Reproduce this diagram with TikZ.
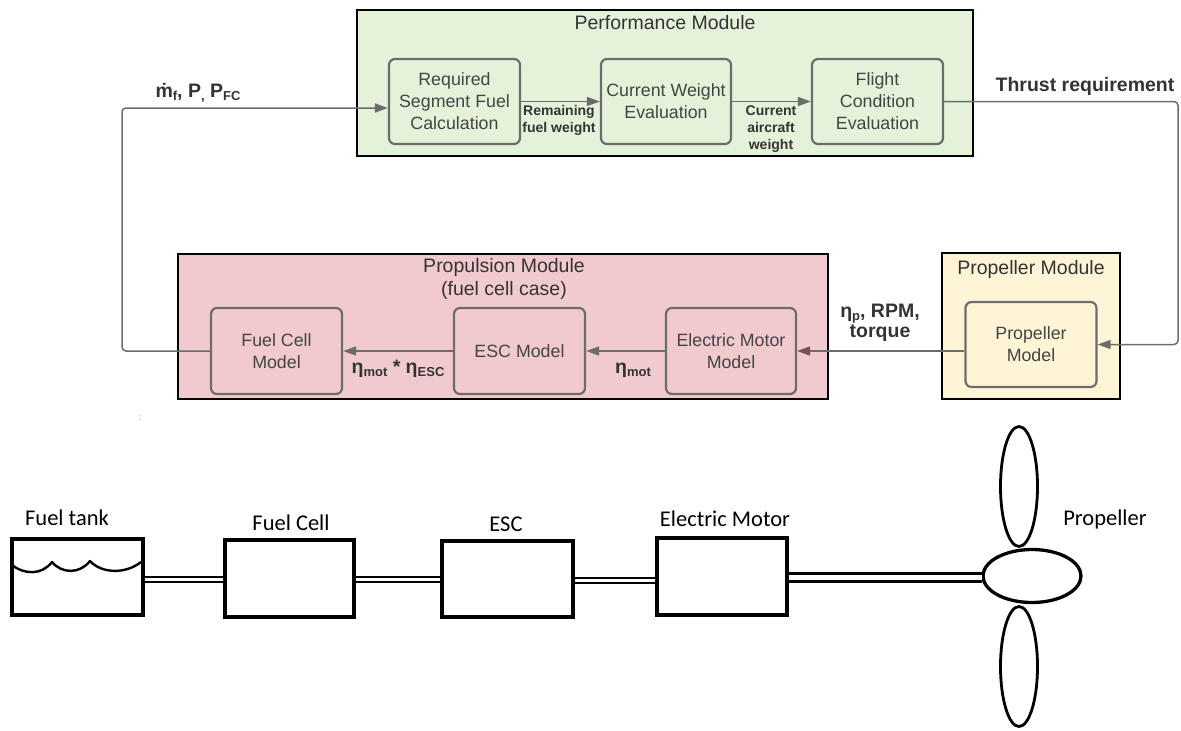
\documentclass[tikz,border=0pt]{standalone}
\usepackage{fontspec}
\setmainfont{Liberation Sans}
\newfontfamily\calibri{Carlito}
\usetikzlibrary{arrows.meta,shapes.geometric}

\definecolor{perfgreen}{RGB}{229,242,218}
\definecolor{propred}{RGB}{241,202,206}
\definecolor{propyellow}{RGB}{255,244,214}
\definecolor{edgegray}{RGB}{108,108,108}
\definecolor{textgray}{RGB}{51,51,51}
\definecolor{boxtext}{RGB}{68,68,68}
\definecolor{linkred}{RGB}{122,78,84}

% small lowered index used in the bold signal labels
\newcommand\lsub[1]{\raisebox{-0.32ex}{\fontsize{13}{13}\selectfont #1}}

\tikzset{
  module/.style={draw=black, line width=1.4pt, inner sep=0pt},
  block/.style={draw=edgegray, line width=2.2pt, rounded corners=6pt,
    minimum width=131pt, minimum height=85pt, inner sep=0pt, align=center,
    text=boxtext, font=\fontsize{17.8}{22}\selectfont},
  link/.style={draw=edgegray, line width=1.5pt, rounded corners=4pt,
    -{Triangle[length=13pt,width=9pt]}},
  smalllbl/.style={font=\bfseries\fontsize{14}{17}\selectfont, text=textgray,
    align=center, inner sep=0pt},
  biglbl/.style={font=\bfseries\fontsize{19.5}{20}\selectfont, text=textgray,
    align=center, inner sep=0pt},
  title/.style={font=\fontsize{19.5}{23}\selectfont, text=textgray,
    align=center, inner sep=0pt},
  part/.style={draw=black, line width=3.2pt, inner sep=0pt},
  pipe/.style={draw=black, double, double distance=3pt, line width=2pt},
  shaft/.style={draw=black, double, double distance=5pt, line width=3pt},
  blade/.style={draw=black, ellipse, line width=2.8pt, inner sep=0pt},
  sketchlbl/.style={font=\calibri\fontsize{22.5}{27}\selectfont, inner sep=0pt},
}

\begin{document}
\begin{tikzpicture}[x=1pt,y=-1pt]
\useasboundingbox (0,0) rectangle (1181,731);

% ---------------- module frames ----------------
\node[module, fill=perfgreen, minimum width=616pt, minimum height=146pt] (perf) at (665,83) {};
\node[module, fill=propred, minimum width=650pt, minimum height=145pt] (propu) at (503,326.5) {};
\node[module, fill=propyellow, minimum width=178pt, minimum height=146pt] (prmod) at (1031,326) {};

\node[title, anchor=base] (perftitle) at (665,29) {Performance Module};
\node[title] (propultitle) at (504,279) {Propulsion Module\\(fuel cell case)};
\node[title, anchor=base] (prtitle) at (1031,274) {Propeller Module};

% ---------------- model blocks ----------------
\node[block, fill=perfgreen] (rsfc) at (454.5,101.5) {Required\\Segment Fuel\\Calculation};
\node[block, fill=perfgreen, minimum width=130pt] (cwe) at (666,101.5) {Current Weight\\Evaluation};
\node[block, fill=perfgreen] (fce) at (877.5,101.5) {Flight\\Condition\\Evaluation};

\node[block, fill=propred, minimum height=86pt] (fcm) at (276.5,351) {Fuel Cell\\Model};
\node[block, fill=propred, minimum height=86pt] (escm) at (519.5,351) {ESC Model};
\node[block, fill=propred, minimum width=130pt, minimum height=86pt] (emm) at (731,351) {Electric Motor\\Model};
\node[block, fill=propyellow, minimum height=85pt] (propm) at (1031,344.5) {Propeller\\Model};

% ---------------- connectors ----------------
\draw[link] (rsfc.east) -- (cwe.west);
\draw[link] (cwe.east) -- (fce.west);
\coordinate (thrustturn) at (1178,101.5);
\draw[link] (fce.east) -- (thrustturn) |- (propm.east);
\draw[link, -{Triangle[length=13pt,width=9pt,fill=linkred,color=linkred]}]
  (emm.east -| propm.west) -- (emm.east);
\draw[link] (emm.west) -- (escm.east);
\draw[link] (escm.west) -- (fcm.east);
\coordinate (loopturn) at (122,351);
\draw[link] (fcm.west) -- (loopturn) |- ([yshift=-6.5pt]rsfc.west);

% ---------------- signal labels ----------------
\node[smalllbl] (remfuel) at (559,120.5) {Remaining\\fuel weight};
\node[smalllbl] (curw) at (771,129.5) {Current\\aircraft\\weight};
\node[biglbl, anchor=base] (thrust) at (1085,91) {Thrust requirement};
\node[biglbl, anchor=base] (mdot) at (198,97) {\.{m}\lsub{f}, P\lsub{,} P\lsub{FC}};
\node[biglbl] (etap) at (880,323) {η\lsub{p}, RPM,\\torque};
\node[biglbl, anchor=base] (etamot) at (633,373) {η\lsub{mot}};
\node[biglbl, anchor=base] (etaprod) at (398,373) {η\lsub{mot} * η\lsub{ESC}};

\node[font=\fontsize{9}{9}\selectfont, text=gray, inner sep=0pt] (colon) at (140,418) {:};

% ---------------- powertrain sketch ----------------
\node[part, minimum width=131pt, minimum height=76pt] (tank) at (77.5,577) {};
\node[part, minimum width=129pt, minimum height=77pt] (fcell) at (289.5,578.5) {};
\node[part, minimum width=131pt, minimum height=76pt] (esc) at (507.5,579) {};
\node[part, minimum width=130pt, minimum height=77pt] (motor) at (722,576.5) {};

% fuel surface inside the tank
\draw[black, line width=2.4pt, line join=round]
  (12,565) .. controls (25,575) and (42,575) .. (52,562)
  .. controls (62,574) and (80,574) .. (90,561)
  .. controls (102,574) and (126,574) .. (141,562);

\draw[pipe] ([yshift=-2.5pt]tank.east) -- ([yshift=-2.5pt]tank.east -| fcell.west);
\draw[pipe] ([yshift=-1pt]fcell.east) -- ([yshift=-1pt]fcell.east -| esc.west);
\draw[pipe] ([yshift=-1pt]esc.east) -- ([yshift=-1pt]esc.east -| motor.west);

\node[blade, minimum width=37pt, minimum height=120pt] (bladetop) at (1019,486.5) {};
\node[blade, minimum width=37pt, minimum height=120pt] (bladebot) at (1019,666.5) {};
\node[blade, fill=white, line width=3.3pt, minimum width=98pt, minimum height=53pt] (hub) at (1032,576) {};
\draw[shaft] ([yshift=-1pt]motor.east) -- ([yshift=-1pt,xshift=1pt]motor.east -| hub.west);

\node[sketchlbl, anchor=base] (tanklbl) at (67,525) {Fuel tank};
\node[sketchlbl, anchor=base] (fclbl) at (291,530) {Fuel Cell};
\node[sketchlbl, anchor=base] (esclbl) at (506,531) {ESC};
\node[sketchlbl, anchor=base] (motorlbl) at (725,526) {Electric Motor};
\node[sketchlbl, anchor=base] (proplbl) at (1105,525) {Propeller};
\end{tikzpicture}
\end{document}
